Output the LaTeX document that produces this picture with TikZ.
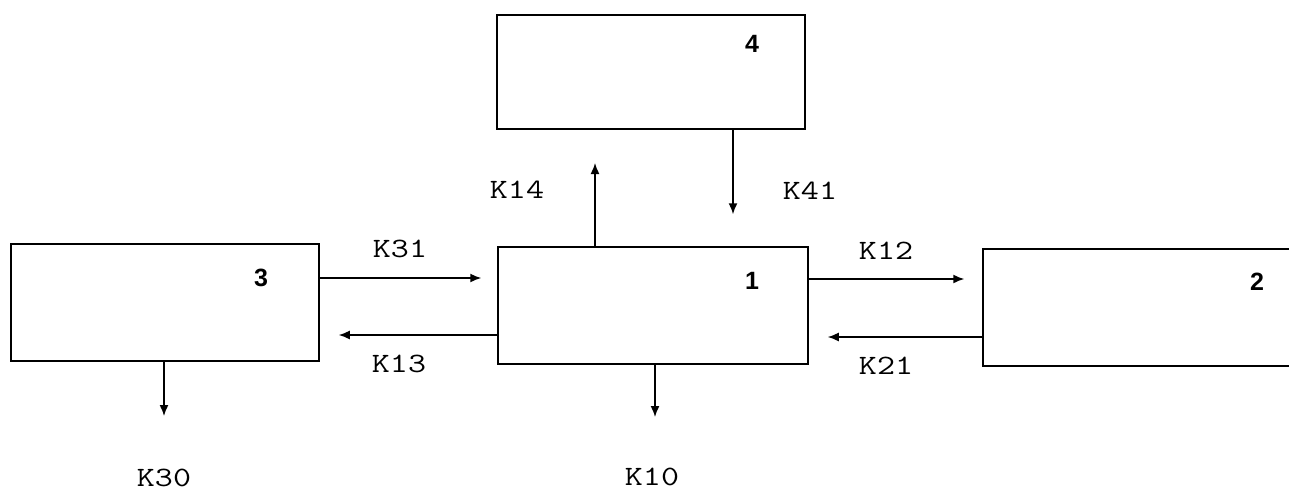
\documentclass[tikz,border=0pt]{standalone}
\usepackage{fontspec}
\usepackage{graphicx}
\newfontfamily\digitfont{Liberation Sans}
\usetikzlibrary{arrows.meta}
\begin{document}
\begin{tikzpicture}[x=1pt,y=-1pt,
  compbox/.style={draw,line width=1.5pt,rectangle,inner sep=0pt,minimum width=#1},
  compbox/.default=308pt,
  flow/.style={line width=1.5pt,-{Latex[length=11pt,width=9pt]}},
  klabel/.style={inner sep=0pt,font=\fontsize{28}{30}\selectfont\ttfamily},
  numlabel/.style={inner sep=0pt,font=\fontsize{25}{27}\selectfont\digitfont\bfseries}]
\useasboundingbox (0,0) rectangle (1289,493);
% boxes
\node[compbox=308pt,minimum height=114pt] (b4) at (651,72) {};
\node[compbox=310pt,minimum height=117pt] (b1) at (653,305.5) {};
\node[compbox=308pt,minimum height=117pt] (b3) at (165,302.5) {};
\node[compbox=312pt,minimum height=117pt] (b2) at (1139,307.5) {};
% numbers
\node[numlabel] (n4) at (752,44) {4};
\node[numlabel] (n1) at (752,281) {1};
\node[numlabel] (n3) at (261,278) {3};
\node[numlabel] (n2) at (1257,282) {2};
% free ends
\coordinate (k14end) at (595,163);
\coordinate (k10end) at (655,417);
\coordinate (k30end) at (164,416);
% connectors
\draw[flow,shorten >=16pt] (b3.east |- 0,278) -- (b1.west |- 0,278);
\draw[flow,shorten >=19pt] (b1.west |- 0,335) -- (b3.east |- 0,335);
\draw[flow,shorten >=18pt] (b1.east |- 0,279) -- (b2.west |- 0,279);
\draw[flow,shorten >=19pt] (b2.west |- 0,337) -- (b1.east |- 0,337);
\draw[flow] (k14end |- b1.north) -- (k14end);
\draw[flow,shorten >=32pt] (733,0 |- b4.south) -- (733,0 |- b1.north);
\draw[flow] (k10end |- b1.south) -- (k10end);
\draw[flow] (k30end |- b3.south) -- (k30end);
% labels
\node[klabel] (l31) at (400,249) {\scalebox{1.25}[1]{K31}};
\node[klabel] (l13) at (399,364) {\scalebox{1.25}[1]{K13}};
\node[klabel] (l12) at (886,251) {\scalebox{1.25}[1]{K12}};
\node[klabel] (l21) at (886,366) {\scalebox{1.25}[1]{K21}};
\node[klabel] (l14) at (517,190) {\scalebox{1.25}[1]{K14}};
\node[klabel] (l41) at (810,191) {\scalebox{1.25}[1]{K41}};
\node[klabel] (l10) at (652,477) {\scalebox{1.25}[1]{K10}};
\node[klabel] (l30) at (164,478) {\scalebox{1.25}[1]{K30}};
\end{tikzpicture}
\end{document}
